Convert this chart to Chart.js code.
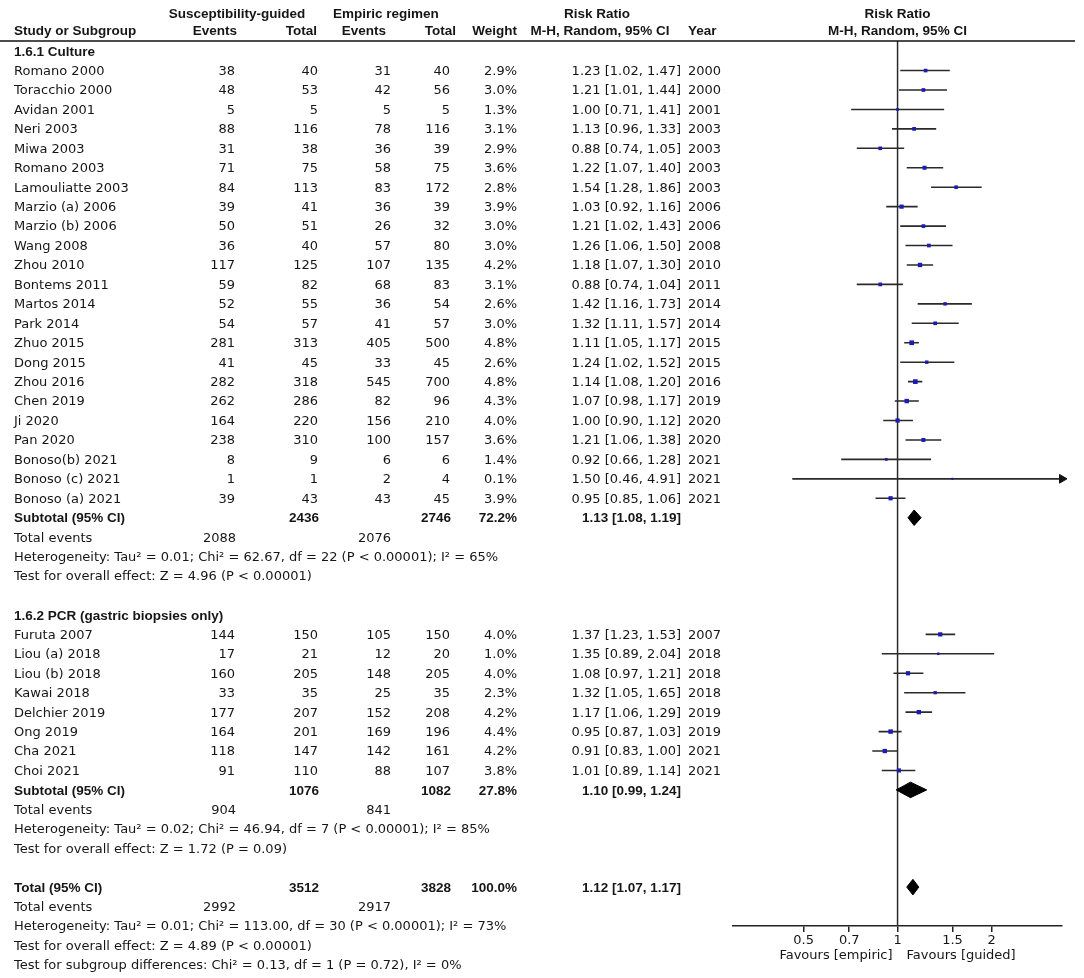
<!DOCTYPE html>
<html>
<head>
<meta charset="utf-8">
<script src="https://cdn.jsdelivr.net/npm/chart.js@4.4.0/dist/chart.umd.min.js"></script>
<style>
  body { margin: 0; background: #fff; }
  canvas { display: block; }
</style>
</head>
<body>
<canvas id="forestChart" width="1084" height="978"></canvas>
<script>
// Nhóm phân tích
const groupNames = ['1.6.1 Culture', '1.6.2 PCR (gastric biopsies only)'];
const studyGroup = [0,0,0,0,0,0,0,0,0,0,0,0,0,0,0,0,0,0,0,0,0,0,0, 1,1,1,1,1,1,1,1];
const studies = ['Romano 2000', 'Toracchio 2000', 'Avidan 2001', 'Neri 2003', 'Miwa 2003', 'Romano 2003',
  'Lamouliatte 2003', 'Marzio (a) 2006', 'Marzio (b) 2006', 'Wang 2008', 'Zhou 2010', 'Bontems 2011',
  'Martos 2014', 'Park 2014', 'Zhuo 2015', 'Dong 2015', 'Zhou 2016', 'Chen 2019', 'Ji 2020', 'Pan 2020',
  'Bonoso(b) 2021', 'Bonoso (c) 2021', 'Bonoso (a) 2021',
  'Furuta 2007', 'Liou (a) 2018', 'Liou (b) 2018', 'Kawai 2018', 'Delchier 2019', 'Ong 2019', 'Cha 2021', 'Choi 2021'];
const years = [2000, 2000, 2001, 2003, 2003, 2003, 2003, 2006, 2006, 2008, 2010, 2011, 2014, 2014, 2015, 2015,
  2016, 2019, 2020, 2020, 2021, 2021, 2021, 2007, 2018, 2018, 2018, 2019, 2019, 2021, 2021];
const guidedEvents = [38, 48, 5, 88, 31, 71, 84, 39, 50, 36, 117, 59, 52, 54, 281, 41, 282, 262, 164, 238, 8, 1, 39,
  144, 17, 160, 33, 177, 164, 118, 91];
const guidedTotal = [40, 53, 5, 116, 38, 75, 113, 41, 51, 40, 125, 82, 55, 57, 313, 45, 318, 286, 220, 310, 9, 1, 43,
  150, 21, 205, 35, 207, 201, 147, 110];
const empiricEvents = [31, 42, 5, 78, 36, 58, 83, 36, 26, 57, 107, 68, 36, 41, 405, 33, 545, 82, 156, 100, 6, 2, 43,
  105, 12, 148, 25, 152, 169, 142, 88];
const empiricTotal = [40, 56, 5, 116, 39, 75, 172, 39, 32, 80, 135, 83, 54, 57, 500, 45, 700, 96, 210, 157, 6, 4, 45,
  150, 20, 205, 35, 208, 196, 161, 107];
const weights = [2.9, 3.0, 1.3, 3.1, 2.9, 3.6, 2.8, 3.9, 3.0, 3.0, 4.2, 3.1, 2.6, 3.0, 4.8, 2.6, 4.8, 4.3, 4.0, 3.6, 1.4, 0.1, 3.9,
  4.0, 1.0, 4.0, 2.3, 4.2, 4.4, 4.2, 3.8];
const riskRatio = [1.23, 1.21, 1.00, 1.13, 0.88, 1.22, 1.54, 1.03, 1.21, 1.26, 1.18, 0.88, 1.42, 1.32, 1.11, 1.24, 1.14, 1.07, 1.00, 1.21, 0.92, 1.50, 0.95,
  1.37, 1.35, 1.08, 1.32, 1.17, 0.95, 0.91, 1.01];
const ciLow = [1.02, 1.01, 0.71, 0.96, 0.74, 1.07, 1.28, 0.92, 1.02, 1.06, 1.07, 0.74, 1.16, 1.11, 1.05, 1.02, 1.08, 0.98, 0.90, 1.06, 0.66, 0.46, 0.85,
  1.23, 0.89, 0.97, 1.05, 1.06, 0.87, 0.83, 0.89];
const ciHigh = [1.47, 1.44, 1.41, 1.33, 1.05, 1.40, 1.86, 1.16, 1.43, 1.50, 1.30, 1.04, 1.73, 1.57, 1.17, 1.52, 1.20, 1.17, 1.12, 1.38, 1.28, 4.91, 1.06,
  1.53, 2.04, 1.21, 1.65, 1.29, 1.03, 1.00, 1.14];

// Tổng từng nhóm
const subGuidedTotal = [2436, 1076];
const subEmpiricTotal = [2746, 1082];
const subGuidedEvents = [2088, 904];
const subEmpiricEvents = [2076, 841];
const subWeight = [72.2, 27.8];
const subRR = [1.13, 1.10];
const subLow = [1.08, 0.99];
const subHigh = [1.19, 1.24];
const subHeterogeneity = ['Heterogeneity: Tau\u00b2 = 0.01; Chi\u00b2 = 62.67, df = 22 (P < 0.00001); I\u00b2 = 65%',
  'Heterogeneity: Tau\u00b2 = 0.02; Chi\u00b2 = 46.94, df = 7 (P < 0.00001); I\u00b2 = 85%'];
const subOverall = ['Test for overall effect: Z = 4.96 (P < 0.00001)', 'Test for overall effect: Z = 1.72 (P = 0.09)'];

// Tổng chung
const totalCounts = [3512, 3828];
const totalEvents = [2992, 2917];
const totalWeight = [100.0];
const totalEffect = [1.12, 1.07, 1.17]; // RR, low, high
const totalNotes = ['Heterogeneity: Tau\u00b2 = 0.01; Chi\u00b2 = 113.00, df = 30 (P < 0.00001); I\u00b2 = 73%',
  'Test for overall effect: Z = 4.89 (P < 0.00001)',
  'Test for subgroup differences: Chi\u00b2 = 0.13, df = 1 (P = 0.72), I\u00b2 = 0%'];

const tickValues = [0.5, 0.7, 1, 1.5, 2];
const xMin = 0.297, xMax = 3.364;

// Dựng danh sách các dòng
var rows = [];
groupNames.forEach(function (g, gi) {
  rows.push({ kind: 'group', text: g });
  studies.forEach(function (s, i) { if (studyGroup[i] === gi) rows.push({ kind: 'study', i: i }); });
  rows.push({ kind: 'subtotal', gi: gi });
  rows.push({ kind: 'events', gi: gi });
  rows.push({ kind: 'note', text: subHeterogeneity[gi] });
  rows.push({ kind: 'note', text: subOverall[gi] });
  rows.push({ kind: 'blank' });
});
rows.push({ kind: 'total' });
rows.push({ kind: 'totalEvents' });
totalNotes.forEach(function (t) { rows.push({ kind: 'note', text: t }); });

const yTop = -0.52, yBottom = 45.0;

function fmtCI(r, lo, hi) { return r.toFixed(2) + ' [' + lo.toFixed(2) + ', ' + hi.toFixed(2) + ']'; }

// Dữ liệu cho biểu đồ
var ciData = [], pointData = [], pointSizes = [], arrowData = [], diamonds = [];
rows.forEach(function (row, r) {
  if (row.kind === 'study') {
    var i = row.i;
    ciData.push({ x: ciLow[i], y: r }, { x: ciHigh[i], y: r }, { x: null, y: null });
    pointData.push({ x: riskRatio[i], y: r });
    pointSizes.push(1.4 + 0.4 * weights[i]);
    if (ciHigh[i] > xMax) arrowData.push({ x: xMax, y: r });
  }
  if (row.kind === 'subtotal') diamonds.push([subLow[row.gi], subRR[row.gi], subHigh[row.gi], r]);
  if (row.kind === 'total') diamonds.push([totalEffect[1], totalEffect[0], totalEffect[2], r]);
});

var datasets = [
  { data: pointData, pointStyle: 'rect', pointRadius: pointSizes, backgroundColor: '#1c1cb0', borderColor: '#1c1cb0', borderWidth: 0, showLine: false },
  { data: arrowData, pointStyle: 'triangle', rotation: 90, pointRadius: 5, backgroundColor: '#111', borderColor: '#111', borderWidth: 1, showLine: false, clip: false },
  { data: ciData, showLine: true, spanGaps: false, pointRadius: 0, borderColor: '#2a2a2a', borderWidth: 1.6 }
];
diamonds.forEach(function (d) {
  datasets.push({
    data: [{ x: d[0], y: d[3] }, { x: d[1], y: d[3] - 0.4 }, { x: d[2], y: d[3] }, { x: d[1], y: d[3] + 0.4 }, { x: d[0], y: d[3] }],
    showLine: true, fill: 'shape', pointRadius: 0, borderColor: '#000', backgroundColor: '#000', borderWidth: 1
  });
});
datasets.push({ data: [{ x: 1, y: yTop }, { x: 1, y: yBottom }], showLine: true, pointRadius: 0, borderColor: '#2a2a2a', borderWidth: 1.5 });

const REG = '13px "DejaVu Sans"';
const BOLD = 'bold 13.5px "Liberation Sans"';
const INK = '#161616';

// Vẽ bảng chữ bên trái
var tablePlugin = {
  id: 'forestTable',
  afterDraw: function (chart) {
    var c = chart.ctx, ys = chart.scales.y, xs = chart.scales.x, area = chart.chartArea;
    var cx = (area.left + area.right) / 2;
    function txt(s, x, y, align, font) {
      c.font = font || REG; c.textAlign = align || 'left'; c.fillText(s, x, y);
    }
    c.save();
    c.fillStyle = INK; c.textBaseline = 'middle';
    // tiêu đề
    txt('Susceptibility-guided', 237, 14, 'center', BOLD);
    txt('Empiric regimen', 333, 14, 'left', BOLD);
    txt('Risk Ratio', 597, 14, 'center', BOLD);
    txt('Risk Ratio', cx, 14, 'center', BOLD);
    txt('Study or Subgroup', 14, 31, 'left', BOLD);
    txt('Events', 237, 31, 'right', BOLD);
    txt('Total', 317, 31, 'right', BOLD);
    txt('Events', 386, 31, 'right', BOLD);
    txt('Total', 456, 31, 'right', BOLD);
    txt('Weight', 517, 31, 'right', BOLD);
    txt('M-H, Random, 95% CI', 600, 31, 'center', BOLD);
    txt('Year', 688, 31, 'left', BOLD);
    txt('M-H, Random, 95% CI', cx, 31, 'center', BOLD);
    c.strokeStyle = '#111'; c.lineWidth = 1.5;
    c.beginPath(); c.moveTo(0, area.top); c.lineTo(1075, area.top); c.stroke();

    rows.forEach(function (row, r) {
      var y = ys.getPixelForValue(r) + 1;
      if (row.kind === 'group') txt(row.text, 14, y, 'left', BOLD);
      else if (row.kind === 'study') {
        var i = row.i;
        txt(studies[i], 14, y, 'left');
        txt(String(guidedEvents[i]), 235, y, 'right');
        txt(String(guidedTotal[i]), 318, y, 'right');
        txt(String(empiricEvents[i]), 391, y, 'right');
        txt(String(empiricTotal[i]), 450, y, 'right');
        txt(weights[i].toFixed(1) + '%', 517, y, 'right');
        txt(fmtCI(riskRatio[i], ciLow[i], ciHigh[i]), 681, y, 'right');
        txt(String(years[i]), 688, y, 'left');
      } else if (row.kind === 'subtotal') {
        var g = row.gi;
        txt('Subtotal (95% CI)', 14, y, 'left', BOLD);
        txt(String(subGuidedTotal[g]), 319, y, 'right', BOLD);
        txt(String(subEmpiricTotal[g]), 451, y, 'right', BOLD);
        txt(subWeight[g].toFixed(1) + '%', 517, y, 'right', BOLD);
        txt(fmtCI(subRR[g], subLow[g], subHigh[g]), 681, y, 'right', BOLD);
      } else if (row.kind === 'events') {
        txt('Total events', 14, y, 'left');
        txt(String(subGuidedEvents[row.gi]), 236, y, 'right');
        txt(String(subEmpiricEvents[row.gi]), 391, y, 'right');
      } else if (row.kind === 'note') {
        txt(row.text, 14, y, 'left');
      } else if (row.kind === 'total') {
        txt('Total (95% CI)', 14, y, 'left', BOLD);
        txt(String(totalCounts[0]), 319, y, 'right', BOLD);
        txt(String(totalCounts[1]), 451, y, 'right', BOLD);
        txt(totalWeight[0].toFixed(1) + '%', 517, y, 'right', BOLD);
        txt(fmtCI(totalEffect[0], totalEffect[1], totalEffect[2]), 681, y, 'right', BOLD);
      } else if (row.kind === 'totalEvents') {
        txt('Total events', 14, y, 'left');
        txt(String(totalEvents[0]), 236, y, 'right');
        txt(String(totalEvents[1]), 391, y, 'right');
      }
    });
    // nhãn hai phía
    var x1 = xs.getPixelForValue(1);
    txt('Favours [empiric]', x1 - 5, area.bottom + 30, 'right');
    txt('Favours [guided]', x1 + 9, area.bottom + 30, 'left');
    c.restore();
  }
};

var ctx = document.getElementById('forestChart').getContext('2d');
var forestChart = new Chart(ctx, {
  type: 'scatter',
  data: { datasets: datasets },
  options: {
    responsive: false,
    animation: false,
    layout: { padding: { top: 41, left: 733, right: 22, bottom: 0 } },
    plugins: { legend: { display: false }, tooltip: { enabled: false } },
    scales: {
      x: {
        type: 'logarithmic', min: xMin, max: xMax, position: 'bottom',
        afterBuildTicks: function (scale) { scale.ticks = tickValues.map(function (v) { return { value: v }; }); },
        afterFit: function (scale) { scale.height = 52; },
        ticks: {
          autoSkip: false, maxRotation: 0, padding: 1, color: INK,
          font: { family: 'DejaVu Sans', size: 13 },
          callback: function (v) { return String(v); }
        },
        grid: { drawOnChartArea: false, drawTicks: true, tickLength: 6, color: '#222', lineWidth: 1.5 },
        border: { display: true, color: '#222', width: 1.5 }
      },
      y: { type: 'linear', reverse: true, min: yTop, max: yBottom, display: false }
    }
  },
  plugins: [tablePlugin]
});
</script>
</body>
</html>
